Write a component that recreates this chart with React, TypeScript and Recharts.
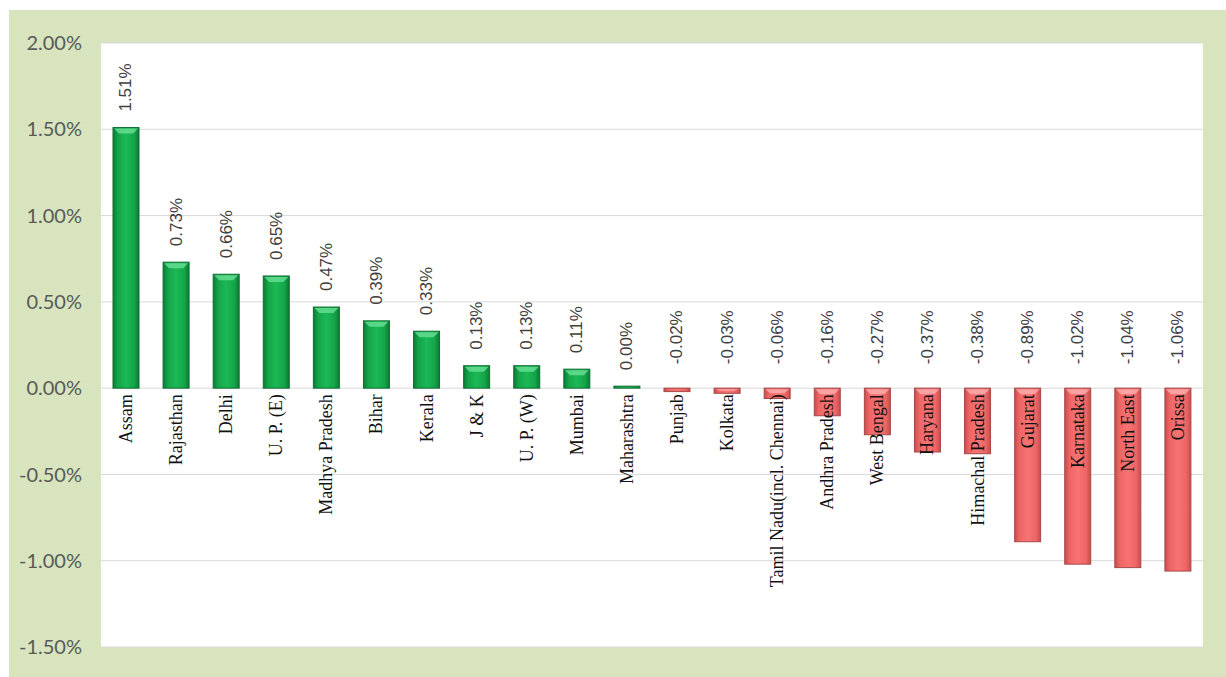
import React from 'react';
import { BarChart, Bar, XAxis, YAxis, CartesianGrid, Cell, LabelList } from 'recharts';

const categories = [
  'Assam', 'Rajasthan', 'Delhi', 'U. P. (E)', 'Madhya Pradesh', 'Bihar', 'Kerala', 'J & K',
  'U. P. (W)', 'Mumbai', 'Maharashtra', 'Punjab', 'Kolkata', 'Tamil Nadu(incl. Chennai)',
  'Andhra Pradesh', 'West Bengal', 'Haryana', 'Himachal Pradesh', 'Gujarat', 'Karnataka',
  'North East', 'Orissa',
];
const growth = [
  1.51, 0.73, 0.66, 0.65, 0.47, 0.39, 0.33, 0.13, 0.13, 0.11, 0.0, -0.02, -0.03, -0.06,
  -0.16, -0.27, -0.37, -0.38, -0.89, -1.02, -1.04, -1.06,
];
const yTicks = [-1.5, -1, -0.5, 0, 0.5, 1, 1.5, 2];

const data = categories.map((name, i) => ({ name, growth: growth[i] }));

const fmt = (v: number) => `${v.toFixed(2)}%`;

// excel-ish bevelled bar
const BevelBar = (props: any) => {
  const { x, y, width, height, payload } = props;
  const top = Math.min(y, y + height);
  const h = Math.abs(height);
  const pos = payload.growth >= 0;
  const cap = Math.min(6, h / 2);
  return (
    <g>
      <rect
        x={x}
        y={top}
        width={width}
        height={h}
        fill={pos ? 'url(#gGreen)' : 'url(#gRed)'}
        stroke={pos ? '#0d6f31' : '#a84848'}
        strokeWidth={1}
      />
      {h > 4 && (
        <polygon
          points={`${x + 1},${top + 1} ${x + width - 1},${top + 1} ${x + width - 6},${top + cap} ${x + 6},${top + cap}`}
          fill={pos ? '#6fe39a' : '#ffb4b4'}
          opacity={0.75}
        />
      )}
    </g>
  );
};

const ValueLabel = (props: any) => {
  const { x, y, width, height, value } = props;
  const cx = x + width / 2;
  const zero = value >= 0 ? Math.max(y, y + height) : Math.min(y, y + height);
  const barTop = Math.min(y, y + height);
  const yy = value >= 0 ? barTop - 16 : zero - 24;
  return (
    <text
      x={cx}
      y={yy}
      transform={`rotate(-90, ${cx}, ${yy})`}
      textAnchor="start"
      dominantBaseline="central"
      fill="#404040"
      fontSize={17}
      fontFamily="'Liberation Sans', Arial, sans-serif"
    >
      {fmt(value)}
    </text>
  );
};

const NameLabel = (props: any) => {
  const { x, y, width, height, value } = props;
  const v = growth[categories.indexOf(value)];
  const cx = x + width / 2;
  const zero = v >= 0 ? Math.max(y, y + height) : Math.min(y, y + height);
  const yy = zero + 6;
  return (
    <text
      x={cx}
      y={yy}
      transform={`rotate(-90, ${cx}, ${yy})`}
      textAnchor="end"
      dominantBaseline="central"
      fill="#111"
      fontSize={18}
      fontFamily="'Liberation Serif', 'Times New Roman', serif"
    >
      {value}
    </text>
  );
};

export default function App() {
  return (
    <div style={{ position: 'absolute', left: 0, top: 0, width: 1226, height: 677, background: '#fff' }}>
      <div style={{ position: 'absolute', left: 9, top: 10, width: 1217, height: 667, background: '#d7e4bd' }}>
        <BarChart
          width={1217}
          height={667}
          data={data}
          margin={{ top: 33, right: 23, bottom: 30, left: 0 }}
        >
          <defs>
            <linearGradient id="gGreen" x1="0" y1="0" x2="1" y2="0">
              <stop offset="0%" stopColor="#0b7a35" />
              <stop offset="18%" stopColor="#14a449" />
              <stop offset="50%" stopColor="#1bb955" />
              <stop offset="82%" stopColor="#14a449" />
              <stop offset="100%" stopColor="#0b7a35" />
            </linearGradient>
            <linearGradient id="gRed" x1="0" y1="0" x2="1" y2="0">
              <stop offset="0%" stopColor="#c94c4c" />
              <stop offset="18%" stopColor="#ee6565" />
              <stop offset="50%" stopColor="#f77373" />
              <stop offset="82%" stopColor="#ee6565" />
              <stop offset="100%" stopColor="#c94c4c" />
            </linearGradient>
          </defs>
          <CartesianGrid vertical={false} stroke="#d9d9d9" fill="#ffffff" />
          <XAxis dataKey="name" hide />
          <YAxis
            type="number"
            domain={[-1.5, 2]}
            ticks={yTicks}
            width={92}
            axisLine={false}
            tickLine={false}
            tickMargin={13}
            tickFormatter={fmt}
            tick={{ fill: '#595959', fontSize: 20, fontFamily: 'Lato, Calibri, sans-serif' }}
          />
          <Bar
            dataKey="growth"
            barSize={26}
            minPointSize={2}
            shape={BevelBar}
            isAnimationActive={false}
          >
            {data.map((d) => (
              <Cell key={d.name} fill={d.growth >= 0 ? '#16ad4e' : '#f26b6b'} />
            ))}
            <LabelList dataKey="growth" content={ValueLabel} />
            <LabelList dataKey="name" content={NameLabel} />
          </Bar>
        </BarChart>
      </div>
    </div>
  );
}
